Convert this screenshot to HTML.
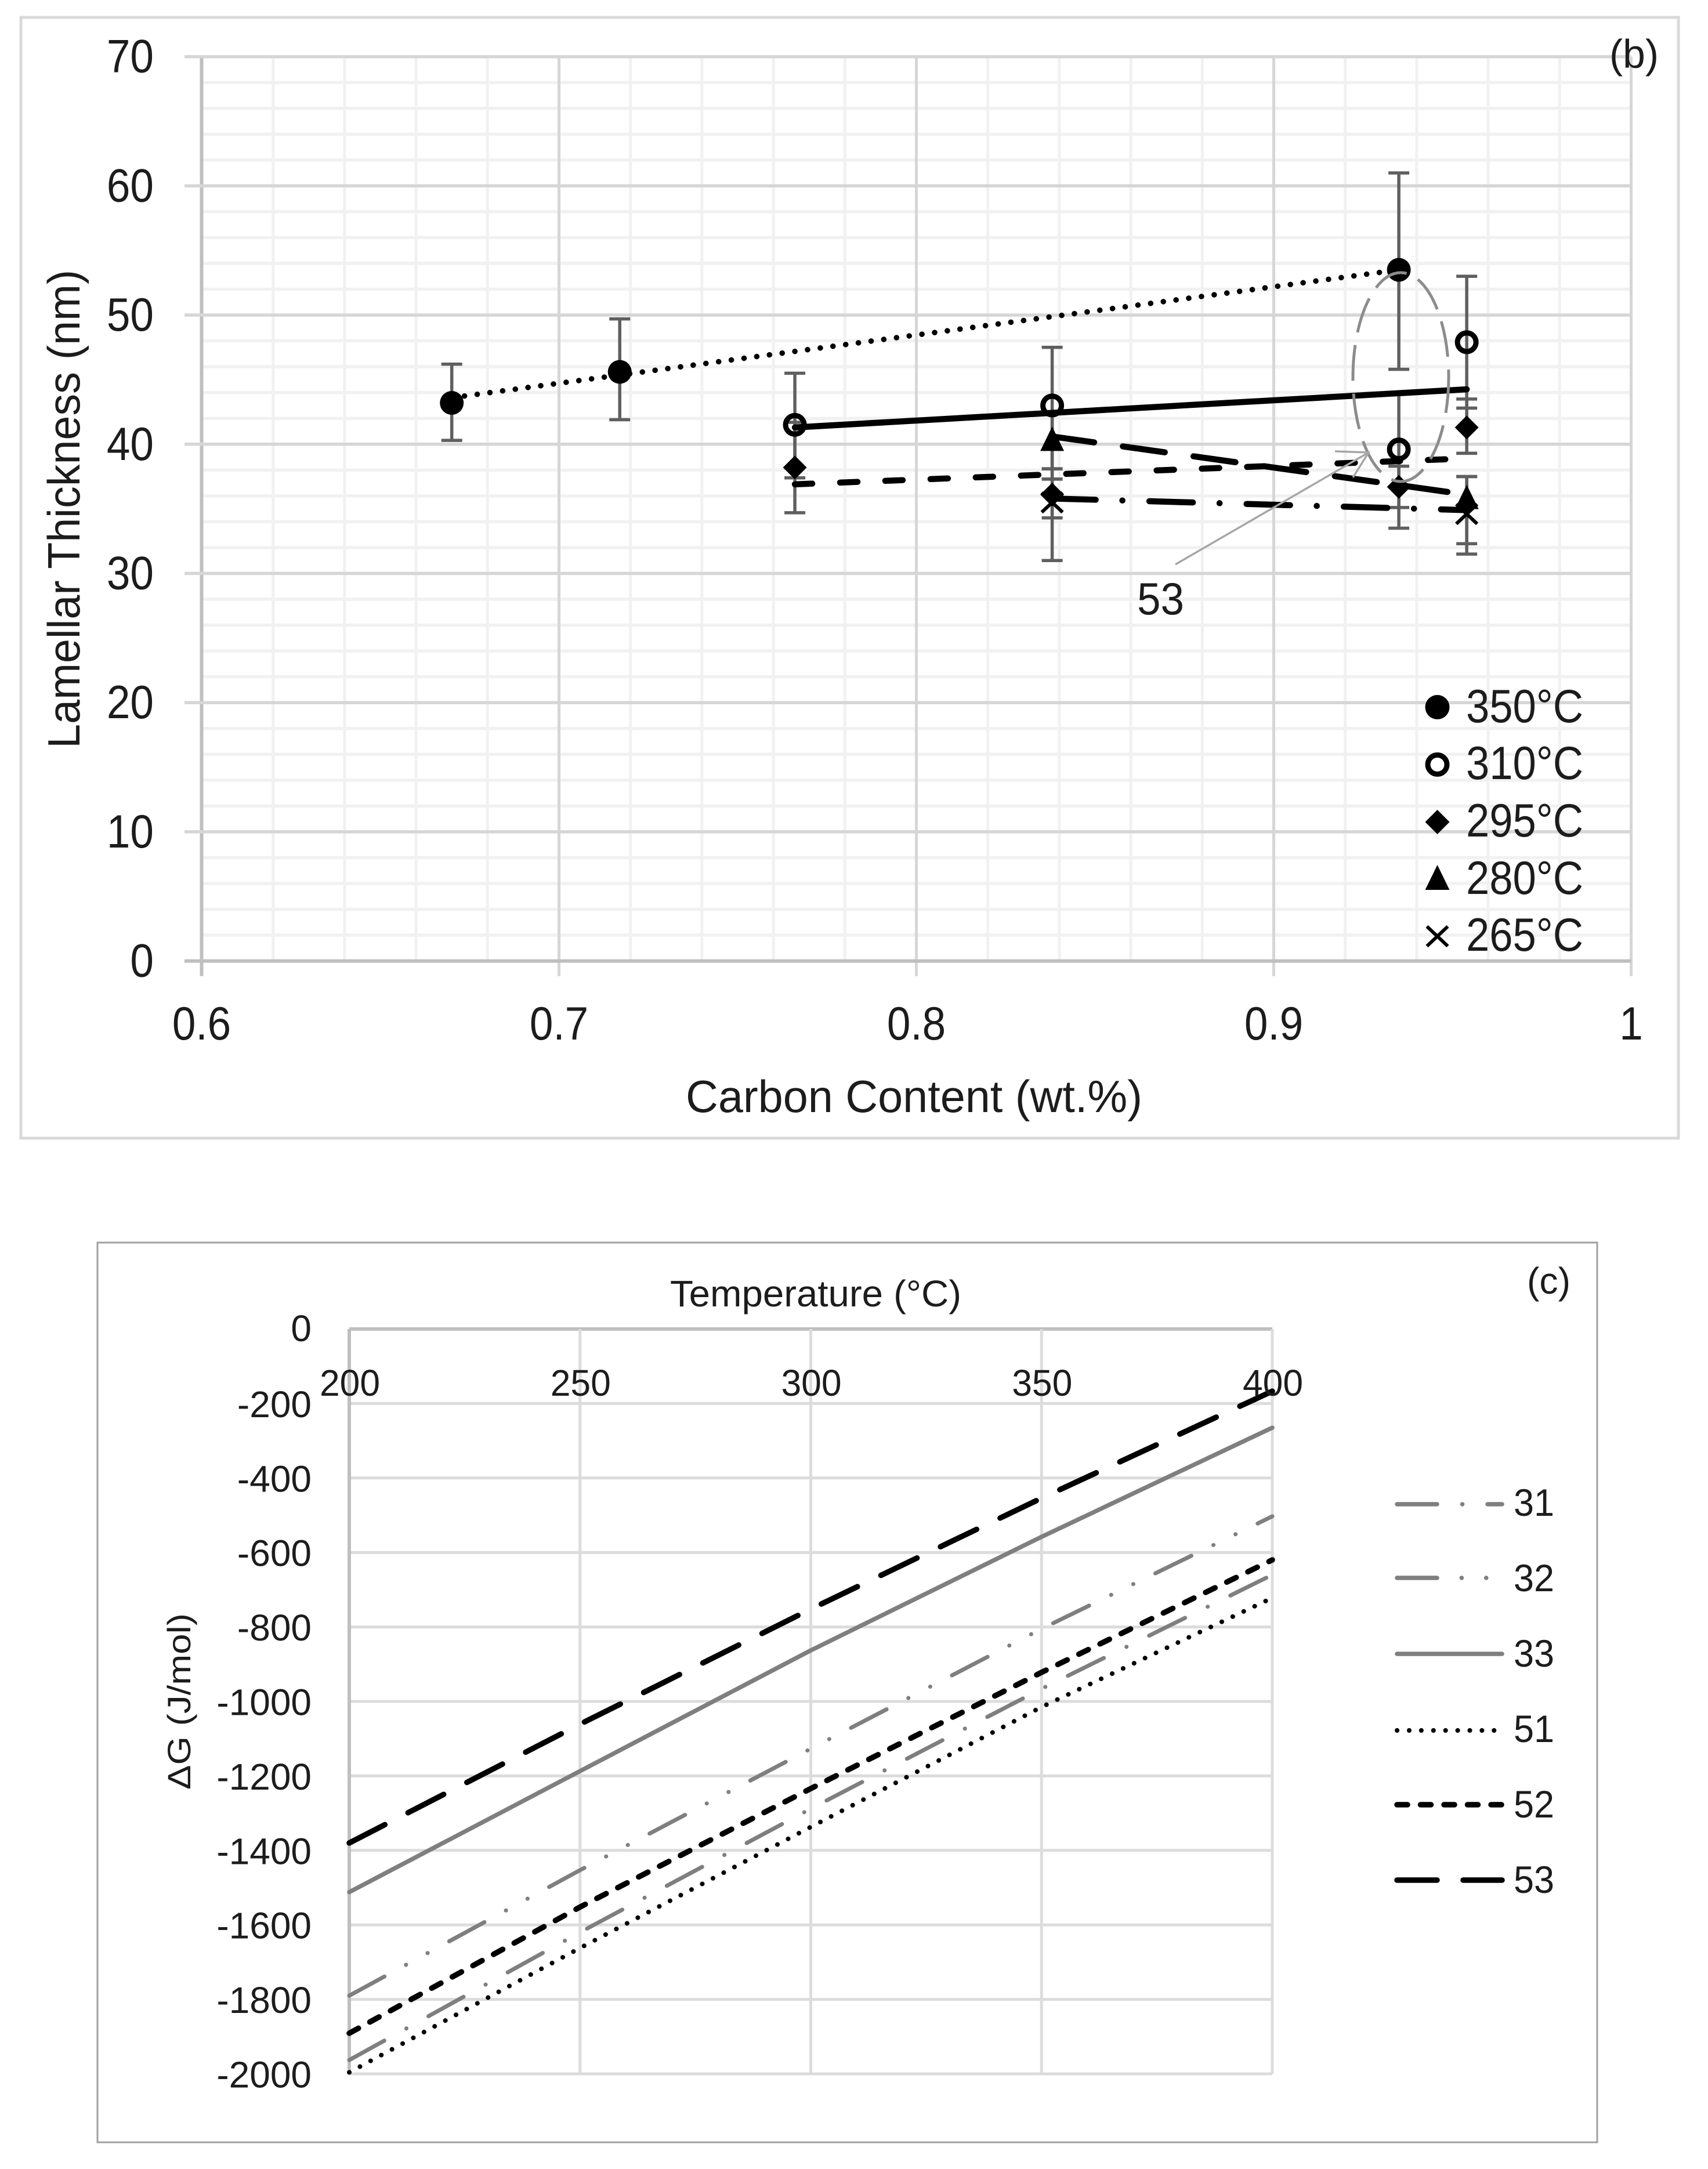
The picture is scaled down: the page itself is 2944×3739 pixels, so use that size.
<!DOCTYPE html>
<html lang="en">
<head>
<meta charset="utf-8">
<title>Lamellar thickness and free energy charts</title>
<style>
html,body{margin:0;padding:0;background:#fff;width:2944px;height:3739px;overflow:hidden}
svg{display:block}
text{font-family:"Liberation Sans","DejaVu Sans",sans-serif;fill:#1c1c1c}
</style>
</head>
<body>
<svg id="figure" xmlns="http://www.w3.org/2000/svg" width="2944" height="3739" viewBox="0 0 2944 3739">
  <rect x="0" y="0" width="2944" height="3739" fill="#fff"/>

  <!-- Panel b -->
  <rect x="36" y="30" width="2857" height="1932" fill="#fff" stroke="#d9d9d9" stroke-width="5"/>
  <g id="b-grid"></g>
  <g id="b-bars"></g>
  <g id="b-lines"></g>
  <g id="b-marks"></g>
  <g id="b-ticks"></g>
  <text x="2774" y="117" font-size="70" textLength="85" lengthAdjust="spacingAndGlyphs">(b)</text>
  <text x="1182" y="1917" font-size="78" textLength="787" lengthAdjust="spacingAndGlyphs">Carbon Content (wt.%)</text>
  <text transform="translate(137 1290) rotate(-90)" x="0" y="0" font-size="78" textLength="825" lengthAdjust="spacingAndGlyphs">Lamellar Thickness (nm)</text>
  <ellipse cx="2414.5" cy="650" rx="82.5" ry="180" fill="none" stroke="#8c8c8c" stroke-width="5" stroke-dasharray="62 22"/>
  <path d="M2026 973L2359 780M2301 778L2359 780L2332 823" fill="none" stroke="#a6a6a6" stroke-width="3.5"/>
  <text x="1960" y="1059" font-size="78" textLength="81" lengthAdjust="spacingAndGlyphs">53</text>
  <g id="b-legend-markers"></g>
  <g font-size="81">
    <text x="2527" y="1245" textLength="202" lengthAdjust="spacingAndGlyphs">350°C</text>
    <text x="2527" y="1343" textLength="202" lengthAdjust="spacingAndGlyphs">310°C</text>
    <text x="2527" y="1442" textLength="202" lengthAdjust="spacingAndGlyphs">295°C</text>
    <text x="2527" y="1541" textLength="202" lengthAdjust="spacingAndGlyphs">280°C</text>
    <text x="2527" y="1639" textLength="202" lengthAdjust="spacingAndGlyphs">265°C</text>
  </g>

  <!-- Panel c -->
  <rect x="168" y="2142" width="2585" height="1551" fill="#fff" stroke="#a0a0a0" stroke-width="3"/>
  <g id="c-grid"></g>
  <g id="c-lines"></g>
  <g id="c-ticks"></g>
  <text x="2632" y="2230" font-size="64" textLength="75" lengthAdjust="spacingAndGlyphs">(c)</text>
  <text x="1155" y="2252" font-size="64" textLength="502" lengthAdjust="spacingAndGlyphs">Temperature (°C)</text>
  <text transform="translate(328 3085) rotate(-90)" x="0" y="0" font-size="56" textLength="304" lengthAdjust="spacingAndGlyphs">ΔG (J/mol)</text>
  <g id="c-legend-lines"></g>
  <g font-size="66">
    <text x="2609" y="2613" textLength="70" lengthAdjust="spacingAndGlyphs">31</text>
    <text x="2609" y="2743" textLength="70" lengthAdjust="spacingAndGlyphs">32</text>
    <text x="2609" y="2873" textLength="70" lengthAdjust="spacingAndGlyphs">33</text>
    <text x="2609" y="3003" textLength="70" lengthAdjust="spacingAndGlyphs">51</text>
    <text x="2609" y="3133" textLength="70" lengthAdjust="spacingAndGlyphs">52</text>
    <text x="2609" y="3263" textLength="70" lengthAdjust="spacingAndGlyphs">53</text>
  </g>
</svg>
<script>
// ---- Panel b data ----
const bXTicks = [0.6, 0.7, 0.8, 0.9, 1];
const bXTickLabels = ['0.6', '0.7', '0.8', '0.9', '1'];
const bYTicks = [0, 10, 20, 30, 40, 50, 60, 70];
const bYTickLabels = ['0', '10', '20', '30', '40', '50', '60', '70'];

const carbon350 = [0.67, 0.717, 0.935];
const thick350 = [43.2, 45.6, 53.5];
const low350 = [40.3, 41.9, 45.8];
const high350 = [46.2, 49.7, 61];

const carbon310 = [0.766, 0.838, 0.935, 0.954];
const thick310 = [41.5, 43, 39.6, 47.9];
const low310 = [37.4, 38.1, 33.5, 42.8];
const high310 = [45.5, 47.5, 43.9, 53];

const carbon295 = [0.766, 0.838, 0.935, 0.954];
const thick295 = [38.2, 36.1, 36.7, 41.3];
const low295 = [34.7, 34.3, 35.1, 39.3];
const high295 = [41.7, 37.3, 38.3, 43.5];

const carbon280 = [0.838, 0.954];
const thick280 = [40.4, 35.9];
const low280 = [37.3, 31.5];
const high280 = [42.4, 37.5];

const carbon265 = [0.838, 0.954];
const thick265 = [35.5, 34.6];
const low265 = [31, 32.3];
const high265 = [38.1, 37.5];

const trendX350 = [0.67, 0.935];
const trendY350 = [43.6, 53.5];
const trendX310 = [0.766, 0.954];
const trendY310 = [41.3, 44.25];
const trendX295 = [0.766, 0.954];
const trendY295 = [36.9, 38.9];
const trendX280 = [0.838, 0.954];
const trendY280 = [40.6, 36.1];
const trendX265 = [0.838, 0.954];
const trendY265 = [35.8, 34.9];

// ---- Panel c data ----
const cTemps = [200, 250, 300, 350, 400];
const cXTickLabels = ['200', '250', '300', '350', '400'];
const cYTicks = [0, -200, -400, -600, -800, -1000, -1200, -1400, -1600, -1800, -2000];
const cYTickLabels = ['0', '-200', '-400', '-600', '-800', '-1000', '-1200', '-1400', '-1600', '-1800', '-2000'];
const dG31 = [-1963, -1620, -1288, -966, -660];
const dG32 = [-1790, -1453, -1127, -805, -503];
const dG33 = [-1512, -1187, -863, -558, -265];
const dG51 = [-1996, -1662, -1337, -1015, -722];
const dG52 = [-1891, -1552, -1234, -922, -620];
const dG53 = [-1380, -1061, -752, -454, -167];

// ---- Helpers ----
const NS = 'http://www.w3.org/2000/svg';
function make(parentId, tag, attrs) {
  const el = document.createElementNS(NS, tag);
  for (const k in attrs) el.setAttribute(k, attrs[k]);
  document.getElementById(parentId).appendChild(el);
  return el;
}
function squeeze(el, k) {
  el.setAttribute('textLength', (el.getComputedTextLength() * k).toFixed(1));
  el.setAttribute('lengthAdjust', 'spacingAndGlyphs');
}

// ---- Axes ----
const bx = v => 347.5 + (v - 0.6) * 6160;
const by = v => 1656.6 - v * 22.27;
const cx = v => 602 + (v - 200) * 7.955;
const cy = v => 2291 - v * 0.642;

function gridLine(parent, x1, y1, x2, y2, color, width) {
  return make(parent, 'line', {x1: x1, y1: y1, x2: x2, y2: y2, stroke: color, 'stroke-width': width});
}

// minor grid
for (let i = 0; i < bXTicks.length - 1; i++) {
  for (let j = 1; j < 5; j++) {
    const v = bXTicks[i] + (bXTicks[i + 1] - bXTicks[i]) * j / 5;
    const el = gridLine('b-grid', bx(v), by(70), bx(v), by(0), '#f1f1f1', 5);
    
    
  }
}
for (let i = 0; i < bYTicks.length - 1; i++) {
  for (let j = 1; j < 5; j++) {
    const v = bYTicks[i] + (bYTicks[i + 1] - bYTicks[i]) * j / 5;
    const el = gridLine('b-grid', bx(0.6), by(v), bx(1), by(v), '#f1f1f1', 5.5);
    
    
  }
}
// major grid, ticks and labels
bXTicks.forEach((v, i) => {
  const g = gridLine('b-grid', bx(v), by(70), bx(v), by(0) + 26, i === 0 ? '#bfbfbf' : '#d6d6d6', i === 0 ? 6 : 5);
  
  
  const t = make('b-ticks', 'text', {x: bx(v), y: 1792, 'font-size': 81, 'text-anchor': 'middle'});
  t.textContent = bXTickLabels[i];
  
  
  squeeze(t, 0.9);
});
bYTicks.forEach((v, i) => {
  const g = gridLine('b-grid', 318, by(v), bx(1), by(v), i === 0 ? '#bfbfbf' : '#d6d6d6', i === 0 ? 6 : 5.5);
  
  
  const t = make('b-ticks', 'text', {x: 265, y: by(v) + 27, 'font-size': 81, 'text-anchor': 'end'});
  t.textContent = bYTickLabels[i];
  
  
  squeeze(t, 0.9);
});

// markers
function marker(parent, type, x, y, big) {
  const s = big ? 21 : 20.5;
  let el;
  if (type === 'circle') {
    el = make(parent, 'circle', {cx: x, cy: y, r: s, fill: '#000'});
  } else if (type === 'open') {
    el = make(parent, 'circle', {cx: x, cy: y, r: s - 4.5, fill: 'none', stroke: '#000', 'stroke-width': 9});
  } else if (type === 'diamond') {
    el = make(parent, 'path', {d: `M${x} ${y - s}L${x + s} ${y}L${x} ${y + s}L${x - s} ${y}Z`, fill: '#000'});
  } else if (type === 'triangle') {
    el = make(parent, 'path', {d: `M${x} ${y - s - 1}L${x + s} ${y + s}L${x - s} ${y + s}Z`, fill: '#000'});
  } else {
    el = make(parent, 'path', {d: `M${x - 18} ${y - 17}L${x + 18} ${y + 17}M${x + 18} ${y - 17}L${x - 18} ${y + 17}`, stroke: '#000', 'stroke-width': 6, fill: 'none'});
  }
  return el;
}

function drawBars(xs, lows, highs) {
  xs.forEach((c, i) => {
    const x = bx(c);
    const yl = by(lows[i]);
    const yh = by(highs[i]);
    const bar = make('b-bars', 'path', {d: `M${x} ${yl}L${x} ${yh}M${x - 18} ${yl}L${x + 18} ${yl}M${x - 18} ${yh}L${x + 18} ${yh}`, fill: 'none', stroke: '#5f5f5f', 'stroke-width': 5.5});
    
    
  });
}
function drawPoints(type, xs, ys, name) {
  xs.forEach((c, i) => {
    const m = marker('b-marks', type, bx(c), by(ys[i]), false);
    
    
  });
}
function drawTrend(xs, ys, dash, cap, width, name) {
  const l = make('b-lines', 'line', {x1: bx(xs[0]), y1: by(ys[0]), x2: bx(xs[1]), y2: by(ys[1]), stroke: '#000', 'stroke-width': width, 'stroke-dasharray': dash, 'stroke-linecap': cap});
  
  
}

drawBars(carbon350, low350, high350);
drawBars(carbon310, low310, high310);
drawBars(carbon295, low295, high295);
drawBars(carbon280, low280, high280);
drawBars(carbon265, low265, high265);

drawTrend(trendX350, trendY350, '0.1 22', 'round', 9.5, 'trend-line-350');
drawTrend(trendX310, trendY310, 'none', 'round', 10.5, 'trend-line-310');
drawTrend(trendX295, trendY295, '30 48', 'round', 10.5, 'trend-line-295');
drawTrend(trendX280, trendY280, '73 50', 'round', 10.5, 'trend-line-280');
drawTrend(trendX265, trendY265, '75 46 0.1 46.5', 'round', 10.5, 'trend-line-265');

drawPoints('x', carbon265, thick265, 'point-265');
drawPoints('triangle', carbon280, thick280, 'point-280');
drawPoints('diamond', carbon295, thick295, 'point-295');
drawPoints('open', carbon310, thick310, 'point-310');
drawPoints('circle', carbon350, thick350, 'point-350');

const m350 = marker('b-legend-markers', 'circle', 2477.5, 1219, true);


const m310 = marker('b-legend-markers', 'open', 2477.5, 1318, true);


const m295 = marker('b-legend-markers', 'diamond', 2477.5, 1417, true);


const m280 = marker('b-legend-markers', 'triangle', 2477.5, 1513, true);


const m265 = marker('b-legend-markers', 'x', 2477.5, 1614, true);



// ---- Panel c axes ----
cYTicks.forEach((v, i) => {
  const g = gridLine('c-grid', cx(200), cy(v), cx(400), cy(v), i === 0 ? '#bfbfbf' : '#dcdcdc', i === 0 ? 6 : 5);
  
  
  const t = make('c-ticks', 'text', {x: 537, y: cy(v) + (i === 0 ? 21 : 23.5), 'font-size': 64, 'text-anchor': 'end'});
  t.textContent = cYTickLabels[i];
  
  
});
cTemps.forEach((v, i) => {
  const g = gridLine('c-grid', cx(v), cy(0), cx(v), cy(-2000), i === 0 ? '#bfbfbf' : '#dcdcdc', i === 0 ? 6 : 5);
  
  
  const t = make('c-ticks', 'text', {x: cx(v) + 1, y: 2406, 'font-size': 64, 'text-anchor': 'middle'});
  t.textContent = cXTickLabels[i];
  
  
  squeeze(t, 0.975);
});

const styleDash31 = '69 43.5 0.1 43.5';
const styleDash32 = '69 42.3 0.1 42.3 0.1 42.3';
const styleDash51 = '0.1 20.8';
const styleDash52 = '18 22.5';
const styleDash53 = '69 45';

function drawSeries(values, color, width, dash, name) {
  const pts = cTemps.map((t, i) => cx(t).toFixed(1) + ',' + cy(values[i]).toFixed(1)).join(' ');
  const p = make('c-lines', 'polyline', {points: pts, fill: 'none', stroke: color, 'stroke-width': width, 'stroke-dasharray': dash, 'stroke-linecap': 'round', 'stroke-linejoin': 'round'});
  
  
}
drawSeries(dG33, '#7f7f7f', 7.5, 'none', 'series-33');
drawSeries(dG32, '#7f7f7f', 7, styleDash32, 'series-32');
drawSeries(dG31, '#7f7f7f', 7, styleDash31, 'series-31');
drawSeries(dG51, '#000', 8, styleDash51, 'series-51');
drawSeries(dG52, '#000', 9.5, styleDash52, 'series-52');
drawSeries(dG53, '#000', 9.5, styleDash53, 'series-53');

function legendLine(y, color, width, dash, x2, name) {
  const l = make('c-legend-lines', 'line', {x1: 2408, y1: y, x2: x2, y2: y, stroke: color, 'stroke-width': width, 'stroke-dasharray': dash, 'stroke-linecap': 'round'});
  
  
}
legendLine(2593, '#7f7f7f', 7.5, styleDash31, 2589, 'legend-line-31');
legendLine(2720, '#7f7f7f', 7.5, styleDash32, 2589, 'legend-line-32');
legendLine(2851, '#7f7f7f', 7.5, 'none', 2589, 'legend-line-33');
legendLine(2983, '#000', 8, styleDash51, 2580, 'legend-line-51');
legendLine(3111, '#000', 9.5, styleDash52, 2589, 'legend-line-52');
legendLine(3241, '#000', 9.5, styleDash53, 2589, 'legend-line-53');
</script>
</body>
</html>
